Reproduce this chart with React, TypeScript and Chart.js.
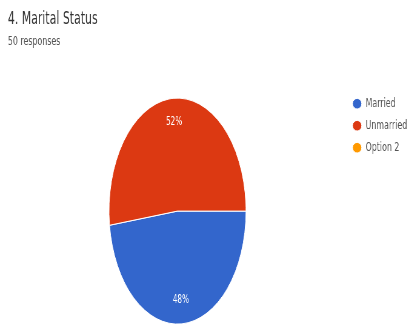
import React, { useEffect, useRef } from "react";
import { Chart, registerables } from "chart.js";

Chart.register(...registerables);

const TITLE = "4. Marital Status";
const SUBTITLE = "50 responses";
const categories = ["Married", "Unmarried", "Option 2"];
const counts = [24, 26, 0];
const colors = ["#3366CC", "#DC3912", "#FF9900"];

const FONT = "'DejaVu Sans', sans-serif";
const SCALE_X = 0.606;
const LOGICAL_W = 682;
const LOGICAL_H = 334;

const pctLabels = {
  id: "pctLabels",
  afterDatasetsDraw(chart: any) {
    const ctx = chart.ctx;
    const meta = chart.getDatasetMeta(0);
    const data = chart.data.datasets[0].data as number[];
    const total = data.reduce((a, b) => a + b, 0);
    ctx.save();
    ctx.fillStyle = "#ffffff";
    ctx.font = "12px " + FONT;
    ctx.textAlign = "center";
    ctx.textBaseline = "middle";
    meta.data.forEach((arc: any, i: number) => {
      const v = data[i];
      if (!v) return;
      const p = arc.getProps(["x", "y", "startAngle", "endAngle", "outerRadius"], true);
      const mid = (p.startAngle + p.endAngle) / 2;
      const r = p.outerRadius * 0.79;
      ctx.fillText(
        Math.round((v / total) * 100) + "%",
        p.x + Math.cos(mid) * r,
        p.y + Math.sin(mid) * r
      );
    });
    ctx.restore();
  },
};

export default function App() {
  const ref = useRef<HTMLCanvasElement | null>(null);

  useEffect(() => {
    document.body.style.margin = "0";
    const chart = new Chart(ref.current as HTMLCanvasElement, {
      type: "pie",
      data: {
        labels: categories,
        datasets: [
          {
            data: counts,
            backgroundColor: colors,
            borderColor: "#ffffff",
            borderWidth: 1,
            radius: 113,
          } as any,
        ],
      },
      options: {
        responsive: false,
        animation: false,
        rotation: 90,
        layout: { padding: { left: 13, right: 0, top: 0, bottom: 0 } },
        plugins: {
          title: {
            display: true,
            text: TITLE,
            align: "start",
            color: "#333333",
            font: { family: FONT, size: 18, weight: "normal" },
            padding: { top: 9, bottom: 0 },
          },
          subtitle: {
            display: true,
            text: SUBTITLE,
            align: "start",
            color: "#555555",
            font: { family: FONT, size: 13, weight: "normal" },
            padding: { top: 3, bottom: 39 },
          },
          legend: {
            position: "right",
            align: "start",
            fullSize: false,
            labels: {
              usePointStyle: true,
              pointStyle: "circle",
              pointStyleWidth: 15,
              boxHeight: 7.5,
              padding: 9,
              color: "#555555",
              font: { family: FONT, size: 13 },
            },
          },
          tooltip: { enabled: false },
        },
      } as any,
      plugins: [pctLabels],
    });
    return () => chart.destroy();
  }, []);

  return (
    <div
      style={{
        position: "fixed",
        left: 0,
        top: 0,
        width: 409,
        height: 327,
        overflow: "hidden",
        background: "#ffffff",
      }}
    >
      <div
        style={{
          width: LOGICAL_W,
          height: LOGICAL_H,
          transform: `scaleX(${SCALE_X})`,
          transformOrigin: "0 0",
        }}
      >
        <canvas
          ref={ref}
          width={LOGICAL_W}
          height={LOGICAL_H}
          style={{ display: "block", width: LOGICAL_W, height: LOGICAL_H }}
        />
      </div>
    </div>
  );
}
